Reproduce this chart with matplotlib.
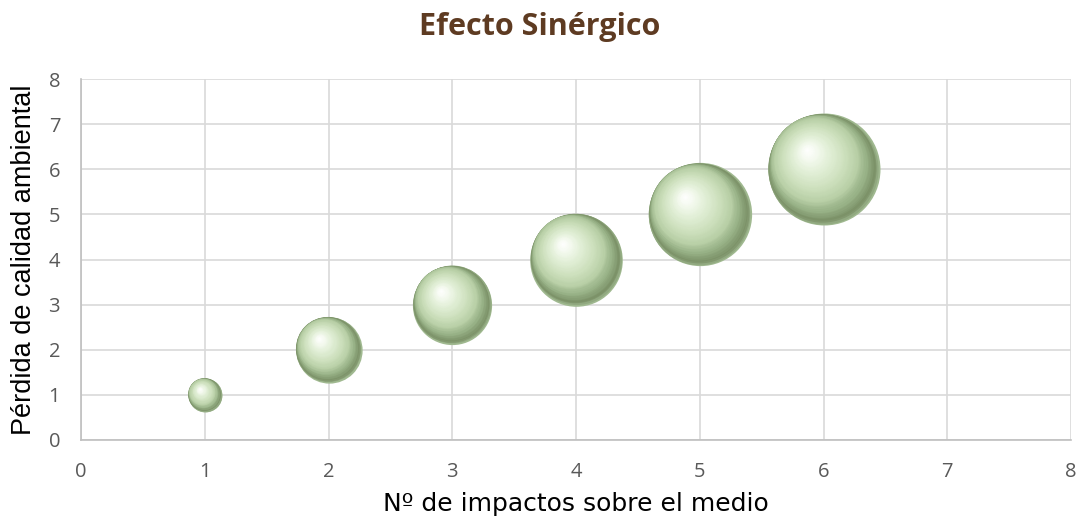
import numpy as np
import matplotlib
matplotlib.use("Agg")
import matplotlib.pyplot as plt
import matplotlib.transforms as mtransforms
from matplotlib.colors import LinearSegmentedColormap

plt.rcParams["font.family"] = ["Open Sans", "DejaVu Sans"]

# Data
impacts = [1, 2, 3, 4, 5, 6]
loss = [1, 2, 3, 4, 5, 6]
bubble_size = [0.55, 2.1, 3.0, 4.1, 5.1, 6.0]
xticks = [0, 1, 2, 3, 4, 5, 6, 7, 8]
yticks = [0, 1, 2, 3, 4, 5, 6, 7, 8]

fig = plt.figure(figsize=(10.8, 5.26), dpi=100)
ax = fig.add_axes([0.075, 0.1635, 0.9167, 0.6863])
ax.set_xlim(0, 8)
ax.set_ylim(0, 8)
ax.set_xticks(xticks)
ax.set_yticks(yticks)
ax.set_xticklabels([str(v) for v in xticks], fontsize=14.5, color="#595959")
ax.set_yticklabels([str(v) for v in yticks], fontsize=14.5, color="#595959")
ax.grid(True, color="#d9d9d9", linewidth=1.2)
ax.set_axisbelow(True)
for s in ["top", "right"]:
    ax.spines[s].set_visible(False)
for s in ["left", "bottom"]:
    ax.spines[s].set_color("#bfbfbf")
    ax.spines[s].set_linewidth(1.2)
ax.tick_params(length=0)
ax.tick_params(axis="y", pad=15)
ax.tick_params(axis="x", pad=16)

# bubble sizing: largest bubble diameter ~112 px
max_d_pt = 112 * 72 / 100.0
cmap = LinearSegmentedColormap.from_list(
    "sphere",
    [(0.0, "#a0b990"), (0.04, "#7a8f66"), (0.13, "#96b085"),
     (0.25, "#b8cfa6"), (0.45, "#cee1be"), (0.7, "#e5f1db"),
     (0.88, "#f7fbf3"), (1.0, "#ffffff")])
N = 60
ux, uy = -0.65, 0.76
t0 = 0.2
for x, y, s in zip(impacts, loss, bubble_size):
    d = max_d_pt * np.sqrt(s / max(bubble_size))
    r = d / 2.0
    for k in range(N):
        t = k / N
        if t < t0:
            sh = t * r
        else:
            sh = t0 * r + (t - t0) / (1 - t0) * (0.46 - t0) * r
        tr = mtransforms.offset_copy(ax.transData, fig=fig,
                                     x=ux * sh, y=uy * sh, units="points")
        ax.scatter([x], [y], s=(d * (1 - t)) ** 2, color=cmap(t),
                   linewidths=0, transform=tr, zorder=3 + k * 0.001,
                   clip_on=False)

ax.set_xlabel("Nº de impactos sobre el medio", fontsize=18,
              fontfamily="DejaVu Sans", labelpad=7)
ax.set_ylabel("Pérdida de calidad ambiental", fontsize=19.5,
              fontfamily="Liberation Sans", labelpad=8)
fig.text(0.5, 0.949, "Efecto Sinérgico", ha="center", va="center",
         fontsize=22, fontweight="bold", color="#5e3b22",
         fontfamily="Open Sans")

fig.savefig("out.png", dpi=100)
